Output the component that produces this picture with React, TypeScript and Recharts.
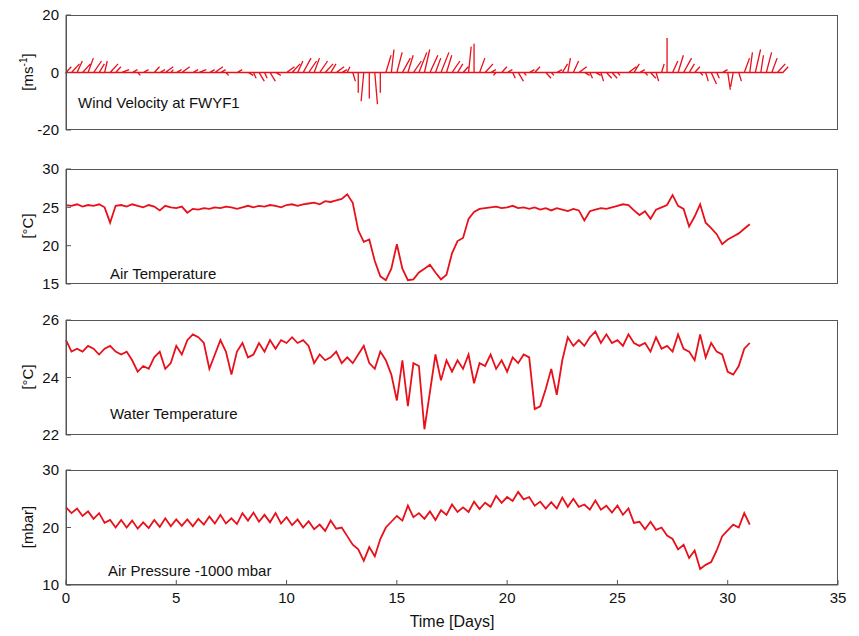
import React from 'react';
import { LineChart, Line, XAxis, YAxis } from 'recharts';

const T = Array.from({ length: 125 }, (_, i) => i * 0.25);
const TW = Array.from({ length: 131 }, (_, i) => i * 0.25);

const airTemp = [
25.3,25.2,25.4,25.1, 25.3,25.2,25.4,25.0, 23.0,25.2,25.3,25.1, 25.4,25.2,25.0,25.3,
25.1,24.6,25.2,25.0, 24.9,25.1,24.3,24.8, 24.7,24.9,24.8,25.0, 24.9,25.1,25.0,24.8,
25.0,25.2,25.0,25.2, 25.1,25.3,25.2,25.0, 25.3,25.4,25.2,25.4, 25.5,25.6,25.4,25.8,
25.7,25.9,26.1,26.7, 25.6,22.0,20.5,20.8, 18.0,16.0,15.5,17.0, 20.2,17.0,15.5,15.6,
16.5,17.0,17.5,16.5, 15.6,16.2,19.0,20.6, 21.0,23.5,24.4,24.8, 24.9,25.0,25.1,24.9,
25.0,25.2,24.9,25.0, 24.8,25.0,24.7,24.9, 24.6,24.9,24.7,24.5, 24.8,24.6,23.3,24.5,
24.7,24.9,24.8,25.0, 25.2,25.4,25.3,24.6, 24.0,24.5,23.5,24.7, 25.0,25.3,26.6,25.2,
24.8,22.5,23.8,25.4, 23.0,22.3,21.5,20.2, 20.8,21.2,21.6,22.2, 22.8];

const waterTemp = [
25.3,24.9,25.0,24.9, 25.1,25.0,24.8,25.0, 25.1,24.9,24.8,24.9, 24.6,24.2,24.4,24.3,
24.7,24.9,24.3,24.5, 25.1,24.8,25.3,25.5, 25.4,25.2,24.3,24.8, 25.3,24.9,24.1,24.9,
25.2,24.7,24.8,25.2, 24.9,25.3,25.0,25.3, 25.2,25.4,25.2,25.3, 25.1,24.5,24.8,24.6,
24.7,24.9,24.5,24.7, 24.5,24.8,25.1,24.5, 24.3,24.9,24.6,24.1, 23.2,24.6,23.0,24.5,
24.4,22.2,23.5,24.8, 23.9,24.6,24.2,24.6, 24.3,24.8,23.8,24.5, 24.4,24.8,24.3,24.6,
24.2,24.7,24.5,24.8, 24.7,22.9,23.0,23.6, 24.3,23.4,24.6,25.4, 25.1,25.3,25.1,25.4,
25.6,25.2,25.5,25.2, 25.3,25.1,25.5,25.2, 25.1,25.2,24.9,25.4, 25.0,25.1,24.9,25.5,
25.0,24.9,24.6,25.5, 24.7,25.2,24.9,24.8, 24.2,24.1,24.4,25.0, 25.2];

const pressure = [
23.5,22.5,23.3,22.0, 22.8,21.5,22.5,20.8, 21.3,20.0,21.3,20.0, 21.2,19.8,20.9,19.9,
21.3,20.1,21.6,20.2, 21.4,20.3,21.4,20.2, 21.5,20.5,21.9,20.7, 22.2,20.7,21.6,20.6,
22.5,21.2,22.6,21.0, 22.2,20.9,22.5,20.7, 21.8,20.4,21.4,20.0, 21.1,19.7,20.5,19.4,
21.2,19.8,20.0,18.5, 17.0,16.2,14.2,16.6, 15.0,18.0,20.0,21.0, 22.0,21.2,23.8,21.8,
22.5,21.5,22.8,21.3, 23.0,22.2,24.0,22.7, 23.5,22.7,24.5,23.2, 24.3,23.6,25.5,24.3,
25.3,24.6,26.2,24.9, 25.3,23.8,24.5,23.3, 24.4,23.3,25.2,23.6, 25.0,23.6,24.0,23.1,
24.7,23.1,23.8,22.6, 23.8,22.2,23.3,20.8, 21.0,19.7,21.0,19.6, 20.0,18.6,18.0,16.2,
17.0,14.7,16.0,12.8, 13.5,14.0,16.0,18.5, 19.5,20.5,20.0,22.5, 20.5];

const windV = [
2,3,4,3, 5,4,3,4, 3,2,1,0, 1,-1,1,0, 2,1,2,1, 1,2,0,1, 1,0,1,2, 1,-1,0,1,
0,-1,-2,-3, -2,-3,-1,0, 2,3,4,5, 4,5,4,3, 3,2,1,2, -3,-7,-10,-9, -11,-7,6,8,
7,5,6,4, 7,8,6,5, 7,6,4,3, 2,9,10,5, 3,1,-1,2, 1,-2,-3,-1, 1,2,0,-2, -1,1,3,5,
4,2,-1,-2, -1,-3,-2,-2, -1,0,2,3, 1,-1,-2,-3, 3,12,4,6, 5,3,2,-1, -3,-4,-2,1,
-6,-5,-3,5, 7,8,6,7, 5,3,2];

const windU = [
2,3,2,3, 2,3,2,1, 3,2,3,2, 2,1,2,3, 2,2,3,1, 2,3,2,2, 3,2,2,3, 2,1,2,2,
1,2,1,2, 1,2,2,1, 3,3,2,3, 3,2,3,3, 2,3,2,1, 1,0,-1,0, 1,0,2,1,
2,3,2,3, 3,2,3,2, 3,2,3,2, 2,1,0,2, 3,2,-1,2, 2,1,2,1, 2,2,1,2, 1,2,2,1,
2,3,2,1, 2,1,2,2, 1,2,3,2, 2,1,2,1, 1,0,2,2, 3,2,2,1, 1,2,1,2,
1,-1,1,2, 1,2,1,2, 2,3,2];

const yTicks1 = [-20, 0, 20];
const yTicks2 = [15, 20, 25, 30];
const yTicks3 = [22, 24, 26];
const yTicks4 = [10, 20, 30];
const xTicks = [0, 5, 10, 15, 20, 25, 30, 35];

const U_SCALE = 0.12;
const windData: { t: number; y: number }[] = [];
TW.forEach((t, i) => {
  windData.push({ t, y: 0 });
  windData.push({ t: t + windU[i] * U_SCALE, y: windV[i] });
  windData.push({ t, y: 0 });
});
const airData = T.map((t, i) => ({ t, y: airTemp[i] }));
const waterData = T.map((t, i) => ({ t, y: waterTemp[i] }));
const presData = T.map((t, i) => ({ t, y: pressure[i] }));

const RED = '#e8101a';
const AX = '#555';
const FONT = '"Liberation Sans", Arial, sans-serif';
const tickStyle = { fill: '#111', fontSize: 15, fontFamily: FONT };

function Panel({ data, top, domain, ticks, last, width }: any) {
  const h = last ? 175 : 135;
  return (
    <div style={{ position: 'absolute', left: 0, top: top - 10 }}>
      <LineChart width={859} height={h} data={data} margin={{ top: 10, right: 21, left: 0, bottom: last ? 0 : 10 }}>
        <XAxis dataKey="t" type="number" domain={[0, 35]} ticks={xTicks} stroke={AX} tickSize={-5} tickMargin={last ? 12 : 0}
          tick={last ? tickStyle : false} height={last ? 50 : 0} interval={0}
          label={last ? { value: 'Time [Days]', position: 'insideBottom', offset: 8, style: { fill: '#111', fontSize: 16, fontFamily: FONT } } : undefined} />
        <YAxis type="number" domain={domain} ticks={ticks} stroke={AX} tickSize={-5} tickMargin={12} width={66}
          tick={tickStyle} interval={0} allowDataOverflow />
        <Line dataKey="y" stroke={RED} strokeWidth={width} dot={false} isAnimationActive={false} type="linear" />
      </LineChart>
      <div style={{ position: 'absolute', left: 66, top: 10, width: 772, height: 115, boxSizing: 'border-box', border: `1px solid ${AX}`, pointerEvents: 'none' }} />
    </div>
  );
}

const textStyle: React.CSSProperties = { position: 'absolute', fontFamily: FONT, fontSize: 15, color: '#111', whiteSpace: 'nowrap' };
const yLab = (top: number): React.CSSProperties => ({
  ...textStyle, left: 27, top, transform: 'translate(-50%, -50%) rotate(-90deg)', fontSize: 15,
});

export default function App() {
  return (
    <div style={{ position: 'absolute', left: 0, top: 0, width: 859, height: 636, background: '#fff' }}>
      <Panel data={windData} top={15} domain={[-20, 20]} ticks={yTicks1} width={1.3} />
      <Panel data={airData} top={169} domain={[15, 30]} ticks={yTicks2} width={1.8} />
      <Panel data={waterData} top={320} domain={[22, 26]} ticks={yTicks3} width={1.8} />
      <Panel data={presData} top={470} domain={[10, 30]} ticks={yTicks4} width={1.8} last />
      <div style={{ ...textStyle, left: 78, top: 94 }}>Wind Velocity at FWYF1</div>
      <div style={{ ...textStyle, left: 110, top: 265 }}>Air Temperature</div>
      <div style={{ ...textStyle, left: 110, top: 405 }}>Water Temperature</div>
      <div style={{ ...textStyle, left: 108, top: 562 }}>Air Pressure -1000 mbar</div>
      <div style={yLab(72)}>[ms<sup style={{ fontSize: 10 }}>-1</sup>]</div>
      <div style={yLab(226)}>[°C]</div>
      <div style={yLab(377)}>[°C]</div>
      <div style={yLab(527)}>[mbar]</div>
    </div>
  );
}
